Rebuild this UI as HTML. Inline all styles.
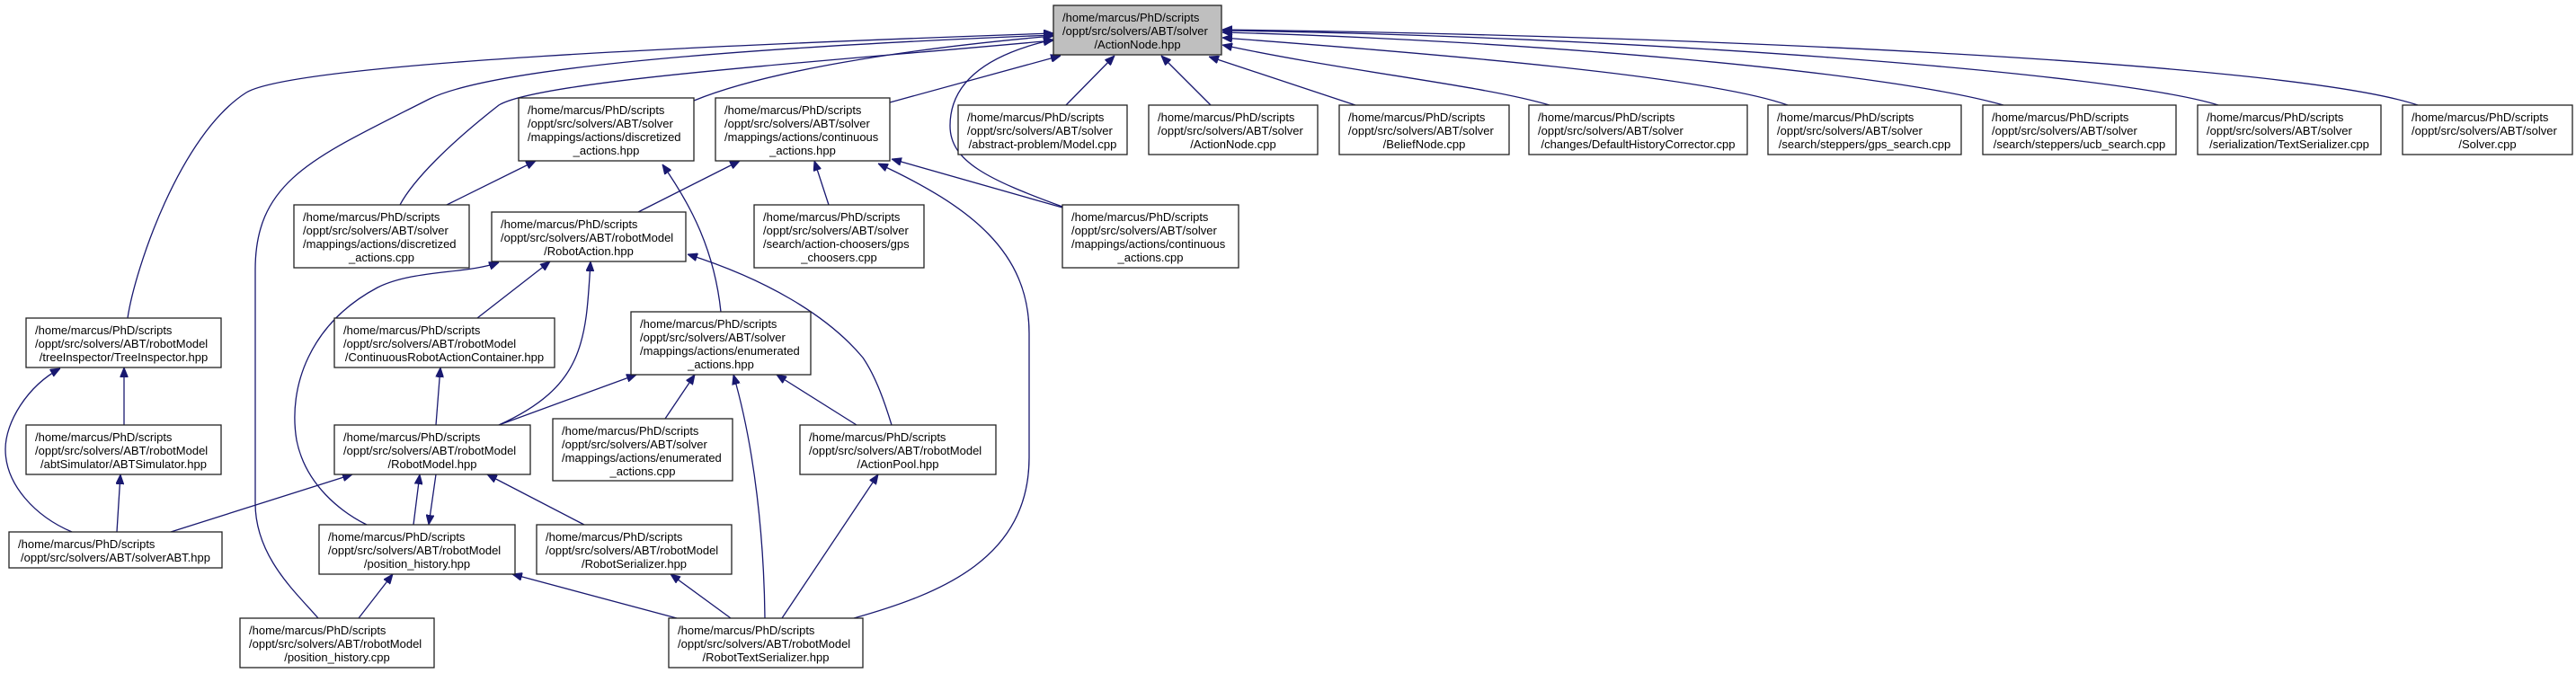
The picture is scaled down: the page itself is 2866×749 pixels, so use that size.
<!DOCTYPE html>
<html><head><meta charset="utf-8"><style>
html,body{margin:0;padding:0;background:#fff;}
svg{display:block;}
text{font-family:"Liberation Sans",Arial,sans-serif;font-size:13px;fill:#000;}
.b{fill:#fff;stroke:#222;stroke-width:1.3;}
.e{fill:none;stroke:#191970;stroke-width:1.3;}
</style></head><body>
<svg width="2866" height="749" viewBox="0 0 2866 749" xmlns="http://www.w3.org/2000/svg">
<defs>
<marker id="a" viewBox="0 0 10 10" refX="10" refY="5" markerWidth="11" markerHeight="9" markerUnits="userSpaceOnUse" orient="auto-start-reverse" preserveAspectRatio="none">
<path d="M0,0 L10,5 L0,10 z" fill="#191970" stroke="#191970"/>
</marker>
</defs>
<g class="edges">
<path class="e" marker-start="url(#a)" d="M1240,62 L1186,117"/>
<path class="e" marker-start="url(#a)" d="M1292,62 L1347,117"/>
<path class="e" marker-start="url(#a)" d="M1345,63 L1508,117"/>
<path class="e" marker-start="url(#a)" d="M1360,50 C1500,80 1650,95 1724,117"/>
<path class="e" marker-start="url(#a)" d="M1360,42 C1600,60 1900,85 1989,117"/>
<path class="e" marker-start="url(#a)" d="M1360,36 C1700,45 2100,80 2229,117"/>
<path class="e" marker-start="url(#a)" d="M1360,34 C1800,40 2350,80 2468,117"/>
<path class="e" marker-start="url(#a)" d="M1360,33 C1900,40 2550,70 2690,117"/>
<path class="e" marker-start="url(#a)" d="M1172,40 C1000,55 850,80 772,112"/>
<path class="e" marker-start="url(#a)" d="M1180,62 L990,114"/>
<path class="e" marker-start="url(#a)" d="M1172,37 C800,50 330,70 274,103 C200,150 150,300 142,354"/>
<path class="e" marker-start="url(#a)" d="M1172,39 C900,50 560,70 478,110 C350,175 284,200 284,300 L284,560 C284,620 330,660 354,688"/>
<path class="e" marker-start="url(#a)" d="M1172,45 C900,70 600,90 555,117 C500,160 460,200 445,228"/>
<path class="e" marker-start="url(#a)" d="M1172,44 C1100,60 1057,90 1057,140 C1057,180 1100,200 1182,230"/>
<path class="e" marker-start="url(#a)" d="M823,179 L710,236"/>
<path class="e" marker-start="url(#a)" d="M906,179 L922,228"/>
<path class="e" marker-start="url(#a)" d="M992,177 L1182,231"/>
<path class="e" marker-start="url(#a)" d="M977,182 C1080,230 1145,280 1145,371 L1145,509 C1145,620 1050,660 950,688"/>
<path class="e" marker-start="url(#a)" d="M596,179 L497,228"/>
<path class="e" marker-start="url(#a)" d="M737,183 C770,230 795,280 802,347"/>
<path class="e" marker-start="url(#a)" d="M612,291 L531,354"/>
<path class="e" marker-start="url(#a)" d="M657,291 C652,380 650,430 555,473"/>
<path class="e" marker-start="url(#a)" d="M555,292 C520,305 460,300 420,320 C345,360 320,430 330,490 C340,540 380,570 408,584"/>
<path class="e" marker-start="url(#a)" d="M765,283 C850,310 920,350 960,398 C975,420 985,450 992,473"/>
<path class="e" marker-start="url(#a)" d="M708,417 L555,473"/>
<path class="e" marker-start="url(#a)" d="M773,417 L740,466"/>
<path class="e" marker-start="url(#a)" d="M816,417 C840,500 850,600 851,688"/>
<path class="e" marker-start="url(#a)" d="M864,417 L953,473"/>
<path class="e" marker-start="url(#a)" d="M138,409 L138,473"/>
<path class="e" marker-start="url(#a)" d="M67,410 C30,430 6,470 6,500 C6,540 40,575 80,592"/>
<path class="e" marker-start="url(#a)" d="M134,528 L130,592"/>
<path class="e" marker-start="url(#a)" d="M490,409 L485,473"/>
<path class="e" marker-start="url(#a)" d="M392,528 L190,592"/>
<path class="e" marker-start="url(#a)" d="M467,528 L460,584"/>
<path class="e" marker-start="url(#a)" d="M477,584 L485,528"/>
<path class="e" marker-start="url(#a)" d="M542,528 L650,584"/>
<path class="e" marker-start="url(#a)" d="M437,639 L399,688"/>
<path class="e" marker-start="url(#a)" d="M570,639 L753,688"/>
<path class="e" marker-start="url(#a)" d="M746,639 L813,688"/>
<path class="e" marker-start="url(#a)" d="M977,528 L870,688"/>
</g>
<g class="nodes">
<rect x="1172" y="6" width="187" height="55" fill="#bfbfbf" stroke="#222" stroke-width="1.3"/>
<text x="1182" y="24">/home/marcus/PhD/scripts</text><text x="1182" y="39">/oppt/src/solvers/ABT/solver</text><text x="1265.5" y="54" text-anchor="middle">/ActionNode.hpp</text>

<rect class="b" x="1066" y="117" width="188" height="55"/>
<text x="1076" y="135">/home/marcus/PhD/scripts</text><text x="1076" y="150">/oppt/src/solvers/ABT/solver</text><text x="1160" y="165" text-anchor="middle">/abstract-problem/Model.cpp</text>

<rect class="b" x="1278" y="117" width="188" height="55"/>
<text x="1288" y="135">/home/marcus/PhD/scripts</text><text x="1288" y="150">/oppt/src/solvers/ABT/solver</text><text x="1372" y="165" text-anchor="middle">/ActionNode.cpp</text>

<rect class="b" x="1490" y="117" width="189" height="55"/>
<text x="1500" y="135">/home/marcus/PhD/scripts</text><text x="1500" y="150">/oppt/src/solvers/ABT/solver</text><text x="1584.5" y="165" text-anchor="middle">/BeliefNode.cpp</text>

<rect class="b" x="1701" y="117" width="243" height="55"/>
<text x="1711" y="135">/home/marcus/PhD/scripts</text><text x="1711" y="150">/oppt/src/solvers/ABT/solver</text><text x="1822.5" y="165" text-anchor="middle">/changes/DefaultHistoryCorrector.cpp</text>

<rect class="b" x="1967" y="117" width="215" height="55"/>
<text x="1977" y="135">/home/marcus/PhD/scripts</text><text x="1977" y="150">/oppt/src/solvers/ABT/solver</text><text x="2074.5" y="165" text-anchor="middle">/search/steppers/gps_search.cpp</text>

<rect class="b" x="2206" y="117" width="215" height="55"/>
<text x="2216" y="135">/home/marcus/PhD/scripts</text><text x="2216" y="150">/oppt/src/solvers/ABT/solver</text><text x="2313.5" y="165" text-anchor="middle">/search/steppers/ucb_search.cpp</text>

<rect class="b" x="2445" y="117" width="204" height="55"/>
<text x="2455" y="135">/home/marcus/PhD/scripts</text><text x="2455" y="150">/oppt/src/solvers/ABT/solver</text><text x="2547" y="165" text-anchor="middle">/serialization/TextSerializer.cpp</text>

<rect class="b" x="2673" y="117" width="189" height="55"/>
<text x="2683" y="135">/home/marcus/PhD/scripts</text><text x="2683" y="150">/oppt/src/solvers/ABT/solver</text><text x="2767.5" y="165" text-anchor="middle">/Solver.cpp</text>

<rect class="b" x="577" y="109" width="195" height="70"/>
<text x="587" y="127">/home/marcus/PhD/scripts</text><text x="587" y="142">/oppt/src/solvers/ABT/solver</text><text x="587" y="157">/mappings/actions/discretized</text><text x="674.5" y="172" text-anchor="middle">_actions.hpp</text>

<rect class="b" x="796" y="109" width="194" height="70"/>
<text x="806" y="127">/home/marcus/PhD/scripts</text><text x="806" y="142">/oppt/src/solvers/ABT/solver</text><text x="806" y="157">/mappings/actions/continuous</text><text x="893" y="172" text-anchor="middle">_actions.hpp</text>

<rect class="b" x="327" y="228" width="195" height="70"/>
<text x="337" y="246">/home/marcus/PhD/scripts</text><text x="337" y="261">/oppt/src/solvers/ABT/solver</text><text x="337" y="276">/mappings/actions/discretized</text><text x="424.5" y="291" text-anchor="middle">_actions.cpp</text>

<rect class="b" x="547" y="236" width="216" height="55"/>
<text x="557" y="254">/home/marcus/PhD/scripts</text><text x="557" y="269">/oppt/src/solvers/ABT/robotModel</text><text x="655" y="284" text-anchor="middle">/RobotAction.hpp</text>

<rect class="b" x="839" y="228" width="189" height="70"/>
<text x="849" y="246">/home/marcus/PhD/scripts</text><text x="849" y="261">/oppt/src/solvers/ABT/solver</text><text x="849" y="276">/search/action-choosers/gps</text><text x="933.5" y="291" text-anchor="middle">_choosers.cpp</text>

<rect class="b" x="1182" y="228" width="196" height="70"/>
<text x="1192" y="246">/home/marcus/PhD/scripts</text><text x="1192" y="261">/oppt/src/solvers/ABT/solver</text><text x="1192" y="276">/mappings/actions/continuous</text><text x="1280" y="291" text-anchor="middle">_actions.cpp</text>

<rect class="b" x="29" y="354" width="217" height="55"/>
<text x="39" y="372">/home/marcus/PhD/scripts</text><text x="39" y="387">/oppt/src/solvers/ABT/robotModel</text><text x="137.5" y="402" text-anchor="middle">/treeInspector/TreeInspector.hpp</text>

<rect class="b" x="372" y="354" width="245" height="55"/>
<text x="382" y="372">/home/marcus/PhD/scripts</text><text x="382" y="387">/oppt/src/solvers/ABT/robotModel</text><text x="494.5" y="402" text-anchor="middle">/ContinuousRobotActionContainer.hpp</text>

<rect class="b" x="702" y="347" width="200" height="70"/>
<text x="712" y="365">/home/marcus/PhD/scripts</text><text x="712" y="380">/oppt/src/solvers/ABT/solver</text><text x="712" y="395">/mappings/actions/enumerated</text><text x="802" y="410" text-anchor="middle">_actions.hpp</text>

<rect class="b" x="29" y="473" width="217" height="55"/>
<text x="39" y="491">/home/marcus/PhD/scripts</text><text x="39" y="506">/oppt/src/solvers/ABT/robotModel</text><text x="137.5" y="521" text-anchor="middle">/abtSimulator/ABTSimulator.hpp</text>

<rect class="b" x="372" y="473" width="218" height="55"/>
<text x="382" y="491">/home/marcus/PhD/scripts</text><text x="382" y="506">/oppt/src/solvers/ABT/robotModel</text><text x="481" y="521" text-anchor="middle">/RobotModel.hpp</text>

<rect class="b" x="615" y="466" width="200" height="69"/>
<text x="625" y="484">/home/marcus/PhD/scripts</text><text x="625" y="499">/oppt/src/solvers/ABT/solver</text><text x="625" y="514">/mappings/actions/enumerated</text><text x="715" y="529" text-anchor="middle">_actions.cpp</text>

<rect class="b" x="890" y="473" width="218" height="55"/>
<text x="900" y="491">/home/marcus/PhD/scripts</text><text x="900" y="506">/oppt/src/solvers/ABT/robotModel</text><text x="999" y="521" text-anchor="middle">/ActionPool.hpp</text>

<rect class="b" x="10" y="592" width="237" height="40"/>
<text x="20" y="610">/home/marcus/PhD/scripts</text><text x="128.5" y="625" text-anchor="middle">/oppt/src/solvers/ABT/solverABT.hpp</text>

<rect class="b" x="355" y="584" width="218" height="55"/>
<text x="365" y="602">/home/marcus/PhD/scripts</text><text x="365" y="617">/oppt/src/solvers/ABT/robotModel</text><text x="464" y="632" text-anchor="middle">/position_history.hpp</text>

<rect class="b" x="597" y="584" width="217" height="55"/>
<text x="607" y="602">/home/marcus/PhD/scripts</text><text x="607" y="617">/oppt/src/solvers/ABT/robotModel</text><text x="705.5" y="632" text-anchor="middle">/RobotSerializer.hpp</text>

<rect class="b" x="267" y="688" width="216" height="55"/>
<text x="277" y="706">/home/marcus/PhD/scripts</text><text x="277" y="721">/oppt/src/solvers/ABT/robotModel</text><text x="375" y="736" text-anchor="middle">/position_history.cpp</text>

<rect class="b" x="744" y="688" width="216" height="55"/>
<text x="754" y="706">/home/marcus/PhD/scripts</text><text x="754" y="721">/oppt/src/solvers/ABT/robotModel</text><text x="852" y="736" text-anchor="middle">/RobotTextSerializer.hpp</text>
</g>
</svg>
</body></html>
